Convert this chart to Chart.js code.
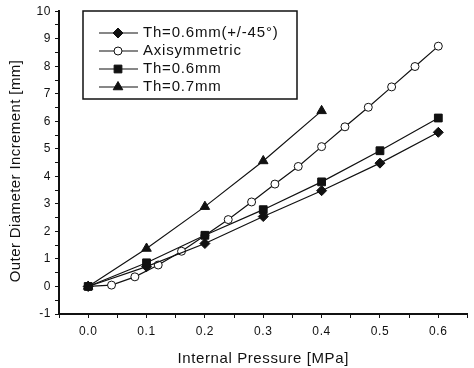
<!DOCTYPE html>
<html><head><meta charset="utf-8">
<script src="https://cdn.jsdelivr.net/npm/chart.js@4/dist/chart.umd.min.js"></script>
<style>html,body{margin:0;padding:0;background:#fff}#wrap{width:474px;height:368px}</style>
</head><body><div id="wrap"><canvas id="c" width="474" height="368"></canvas></div>
<script>
const seriesNames = ["Th=0.6mm(+/-45\u00b0)", "Axisymmetric", "Th=0.6mm", "Th=0.7mm"];
const xDiamond = [0, 0.1, 0.2, 0.3, 0.4, 0.5, 0.6];
const yDiamond = [0, 0.72, 1.56, 2.54, 3.48, 4.48, 5.60];
const xAxisym = [0, 0.04, 0.08, 0.12, 0.16, 0.20, 0.24, 0.28, 0.32, 0.36, 0.40, 0.44, 0.48, 0.52, 0.56, 0.60];
const yAxisym = [0, 0.05, 0.35, 0.78, 1.28, 1.85, 2.43, 3.07, 3.72, 4.36, 5.08, 5.80, 6.51, 7.25, 7.99, 8.73];
const xSquare = [0, 0.1, 0.2, 0.3, 0.4, 0.5, 0.6];
const ySquare = [0, 0.86, 1.86, 2.79, 3.80, 4.93, 6.12];
const xTriangle = [0, 0.1, 0.2, 0.3, 0.4];
const yTriangle = [0, 1.38, 2.90, 4.56, 6.38];
const xTickLabels = ["0.0","0.1","0.2","0.3","0.4","0.5","0.6"];
const yTickLabels = ["-1","0","1","2","3","4","5","6","7","8","9","10"];
const xTitle = "Internal Pressure [MPa]";
const yTitle = "Outer Diameter Increment [mm]";

const pts = (xs, ys) => xs.map((x, i) => ({x: x, y: ys[i]}));
const FONT = "'Liberation Sans', Arial, sans-serif";

function drawMarkerPath(ctx, style, r, x, y) {
  if (style === 'circle') { ctx.arc(x, y, r, 0, Math.PI * 2); }
  else if (style === 'rect') { const s = r * Math.SQRT1_2; ctx.rect(x - s, y - s, 2 * s, 2 * s); }
  else if (style === 'rectRot') { ctx.moveTo(x, y - r); ctx.lineTo(x + r, y); ctx.lineTo(x, y + r); ctx.lineTo(x - r, y); ctx.closePath(); }
  else if (style === 'triangle') { ctx.moveTo(x, y - r); ctx.lineTo(x + r * 0.87, y + r * 0.5); ctx.lineTo(x - r * 0.87, y + r * 0.5); ctx.closePath(); }
}

const spacingPlugin = {
  id: 'spacing',
  beforeDraw(chart) { chart.ctx.letterSpacing = '0.6px'; }
};

const legendPlugin = {
  id: 'boxLegend',
  afterDraw(chart) {
    const ctx = chart.ctx;
    ctx.save();
    // y-axis title
    ctx.translate(16, 171);
    ctx.rotate(-Math.PI / 2);
    ctx.fillStyle = '#111';
    ctx.font = '15px ' + FONT;
    ctx.letterSpacing = '0.4px';
    ctx.textAlign = 'center';
    ctx.textBaseline = 'middle';
    ctx.fillText(yTitle, 0, 0);
    ctx.restore();

    ctx.save();
    ctx.fillStyle = '#fff';
    ctx.fillRect(83, 11, 214, 88);
    ctx.strokeStyle = '#111';
    ctx.lineWidth = 1.5;
    ctx.strokeRect(83, 11, 214, 88);
    const rows = [33, 51, 69, 87];
    chart.data.datasets.forEach((ds, i) => {
      const y = rows[i];
      ctx.strokeStyle = '#111';
      ctx.lineWidth = ds.borderWidth;
      ctx.beginPath(); ctx.moveTo(99, y); ctx.lineTo(138, y); ctx.stroke();
      ctx.fillStyle = ds.pointBackgroundColor;
      ctx.lineWidth = 1;
      ctx.beginPath();
      drawMarkerPath(ctx, ds.pointStyle, ds.pointRadius, 118, y);
      ctx.fill(); ctx.stroke();
      ctx.fillStyle = '#111';
      ctx.font = '15px ' + FONT;
      ctx.letterSpacing = '0.8px';
      ctx.textBaseline = 'middle';
      ctx.textAlign = 'left';
      ctx.fillText(ds.label, 143, y);
    });
    ctx.restore();
  }
};

function mk(label, data, style, r, fill, order) {
  return {
    label: label, data: data, showLine: true, order: order,
    borderColor: '#111', borderWidth: 1.2,
    pointStyle: style, pointRadius: r, pointHoverRadius: r,
    pointBackgroundColor: fill, pointBorderColor: '#111', pointBorderWidth: 1,
    tension: 0
  };
}

new Chart(document.getElementById('c'), {
  type: 'scatter',
  data: {
    datasets: [
      mk(seriesNames[0], pts(xDiamond, yDiamond), 'rectRot', 5, '#111', 0),
      mk(seriesNames[1], pts(xAxisym, yAxisym), 'circle', 4, '#fff', 3),
      mk(seriesNames[2], pts(xSquare, ySquare), 'rect', 5.5, '#111', 1),
      mk(seriesNames[3], pts(xTriangle, yTriangle), 'triangle', 5.5, '#111', 2)
    ]
  },
  options: {
    responsive: false, animation: false, devicePixelRatio: 1,
    layout: { padding: { top: 9, right: 0, left: 0, bottom: 0 } },
    plugins: { legend: { display: false }, tooltip: { enabled: false } },
    scales: {
      x: {
        type: 'linear', min: -0.05, max: 0.65,
        afterFit(s) { s.height = 54; },
        border: { display: true, color: '#111', width: 2 },
        grid: { drawOnChartArea: false, drawTicks: true, tickLength: 4, color: '#111', lineWidth: 1 },
        ticks: {
          stepSize: 0.05, maxRotation: 0, autoSkip: false, padding: 6,
          color: '#111', font: { family: FONT, size: 12 },
          callback(v) {
            const k = Math.round(v * 100);
            if (k < 0 || k % 10 !== 0) return '';
            return xTickLabels[k / 10] || '';
          }
        },
        title: { display: true, text: xTitle, color: '#111', font: { family: FONT, size: 15 }, padding: { top: 2, bottom: 0 } }
      },
      y: {
        type: 'linear', min: -1, max: 10,
        afterFit(s) { s.width = 59; },
        border: { display: true, color: '#111', width: 2 },
        grid: { drawOnChartArea: false, drawTicks: true, tickLength: 4, color: '#111', lineWidth: 1 },
        ticks: {
          stepSize: 0.5, autoSkip: false, padding: 4,
          color: '#111', font: { family: FONT, size: 12 },
          callback(v) {
            const k = Math.round(v * 2);
            if (k % 2 !== 0) return '';
            return yTickLabels[k / 2 + 1] || '';
          }
        },
        title: { display: false }
      }
    }
  },
  plugins: [spacingPlugin, legendPlugin]
});
</script></body></html>
